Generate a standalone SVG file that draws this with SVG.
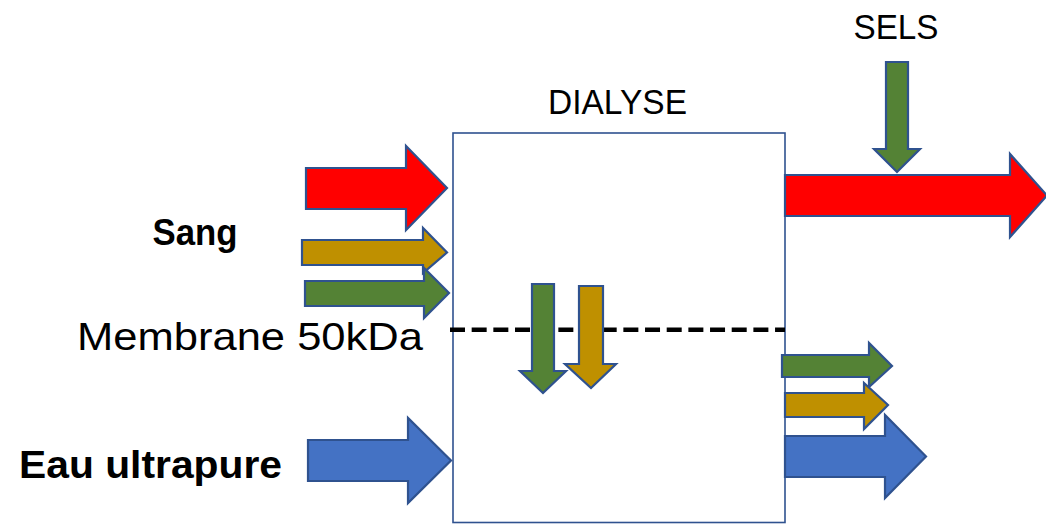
<svg xmlns="http://www.w3.org/2000/svg" width="1046" height="524" viewBox="0 0 1046 524">
<style>
  .arr { stroke: #2F528F; stroke-width: 2.2; stroke-linejoin: miter; }
  .red { fill: #FF0000; }
  .gold { fill: #BF9000; }
  .green { fill: #548235; }
  .blue { fill: #4472C4; }
  .lbl { font-family: "Liberation Sans", Arial, sans-serif; fill: #000; }
  .bold { font-weight: bold; }
</style>
<rect width="1046" height="524" fill="#FFFFFF"/>
<g id="dialyse">
  <rect x="453" y="133" width="332" height="389.5" fill="#FFFFFF" stroke="#2F528F" stroke-width="1.6"/>
  <text class="lbl" x="617.5" y="113.5" font-size="35" text-anchor="middle" textLength="139" lengthAdjust="spacingAndGlyphs">DIALYSE</text>
</g>
<g id="membrane">
  <line x1="450" y1="329.7" x2="785" y2="329.7" stroke="#000" stroke-width="4.5" stroke-dasharray="15 6.67"/>
  <text class="lbl" x="77" y="350" font-size="39" textLength="346" lengthAdjust="spacingAndGlyphs">Membrane 50kDa</text>
</g>
<g id="sang">
  <text class="lbl bold" x="195" y="244.5" font-size="37" text-anchor="middle" textLength="85" lengthAdjust="spacingAndGlyphs">Sang</text>
</g>
<g id="eau">
  <text class="lbl bold" x="19" y="477.5" font-size="39" textLength="263" lengthAdjust="spacingAndGlyphs">Eau ultrapure</text>
</g>
<g id="sels">
  <text class="lbl" x="896" y="38.5" font-size="35" text-anchor="middle" textLength="85" lengthAdjust="spacingAndGlyphs">SELS</text>
</g>
<g id="connectors">
  <!-- inputs -->
  <polygon class="arr red" points="306,168 406,168 406,146 447,188 406,230 406,209 306,209"/>
  <polygon class="arr gold" points="302,240 423,240 423,228 447,252.5 423,273 423,265 302,265"/>
  <polygon class="arr green" points="305,281 424,281 424,268 449,293 424,318 424,306 305,306"/>
  <polygon class="arr blue" points="308,440 408,440 408,418 451,460.5 408,503 408,481 308,481"/>
  <!-- outputs -->
  <polygon class="arr red" points="785,175 1010,175 1010,154 1047,195.5 1010,237 1010,216 785,216"/>
  <polygon class="arr green" points="782,355 869,355 869,343 892,366 869,387 869,377 782,377"/>
  <polygon class="arr gold" points="785,393 864,393 864,383 888,405 864,429 864,417 785,417"/>
  <polygon class="arr blue" points="785,436 885,436 885,415 926,456.5 885,498 885,477 785,477"/>
  <!-- down arrows -->
  <polygon class="arr green" points="886,62 908,62 908,149 920,149 897,172 874,149 886,149"/>
  <polygon class="arr green" points="532,284 554,284 554,371 566,371 543,393 520,371 532,371"/>
  <polygon class="arr gold" points="579,286 603,286 603,364 616,364 591,388 565,364 579,364"/>
</g>
</svg>
